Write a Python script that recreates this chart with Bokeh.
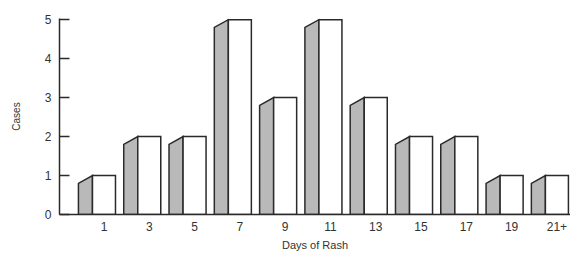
import numpy as np
from bokeh.plotting import figure
from bokeh.models import FixedTicker, ColumnDataSource
from bokeh.embed import file_html
from bokeh.resources import INLINE

days = ["1", "3", "5", "7", "9", "11", "13", "15", "17", "19", "21+"]
cases = [1, 2, 2, 5, 3, 5, 3, 2, 2, 1, 1]
y_ticks = [0, 1, 2, 3, 4, 5]

FRONT_HALF = 0.254
SIDE_W = 0.31
DEPTH = 0.2
FONT = "Liberation Sans"
INK = "#2a2a2a"

xs = np.arange(len(cases))
vals = np.array(cases, dtype=float)

p = figure(width=570, height=253, output_backend="svg", toolbar_location=None,
           x_range=(-0.982, 10.30), y_range=(0, 5.03),
           min_border_left=59, min_border_right=0, min_border_top=18,
           min_border_bottom=39)
p.outline_line_color = None
p.grid.visible = False
p.background_fill_color = "white"

# side (shaded) faces
side_src = ColumnDataSource(dict(
    xs=[[x - FRONT_HALF - SIDE_W, x - FRONT_HALF - SIDE_W, x - FRONT_HALF, x - FRONT_HALF] for x in xs],
    ys=[[0, v - DEPTH, v, 0] for v in vals],
))
p.patches("xs", "ys", source=side_src, fill_color="#b9b9b9", line_color=INK,
          line_width=1.5, line_join="miter")

# front faces
front_src = ColumnDataSource(dict(left=xs - FRONT_HALF, right=xs + FRONT_HALF,
                                  top=vals, bottom=np.zeros_like(vals)))
p.quad(left="left", right="right", top="top", bottom="bottom", source=front_src,
       fill_color="white", line_color=INK, line_width=1.5, line_join="miter")

# y axis
p.yaxis.ticker = FixedTicker(ticks=y_ticks)
p.yaxis.axis_label = "Cases"
p.yaxis.major_tick_in = 10
p.yaxis.major_tick_out = 0
p.yaxis.minor_tick_line_color = None
p.yaxis.major_tick_line_color = INK
p.yaxis.major_tick_line_width = 1.5
p.yaxis.axis_line_color = INK
p.yaxis.axis_line_width = 1.5
p.yaxis.major_label_standoff = 8
p.yaxis.axis_label_standoff = 20
p.yaxis.major_label_text_font = FONT
p.yaxis.major_label_text_font_size = "12px"
p.yaxis.major_label_text_color = "#333333"
p.yaxis.axis_label_text_font = FONT
p.yaxis.axis_label_text_font_size = "10px"
p.yaxis.axis_label_text_font_style = "normal"
p.yaxis.axis_label_text_color = "#333333"

# x axis
p.xaxis.ticker = FixedTicker(ticks=list(xs))
p.xaxis.major_label_overrides = {int(i): lab for i, lab in zip(xs, days)}
p.xaxis.axis_label = "Days of Rash"
p.xaxis.major_tick_line_color = None
p.xaxis.minor_tick_line_color = None
p.xaxis.major_tick_out = 0
p.xaxis.major_tick_in = 0
p.xaxis.axis_line_color = INK
p.xaxis.axis_line_width = 1.5
p.xaxis.major_label_standoff = 7
p.xaxis.axis_label_standoff = 5
p.xaxis.major_label_text_font = FONT
p.xaxis.major_label_text_font_size = "12px"
p.xaxis.major_label_text_color = "#333333"
p.xaxis.axis_label_text_font = FONT
p.xaxis.axis_label_text_font_size = "11px"
p.xaxis.axis_label_text_font_style = "normal"
p.xaxis.axis_label_text_color = "#333333"

open("out.html", "w").write(file_html(p, INLINE))
